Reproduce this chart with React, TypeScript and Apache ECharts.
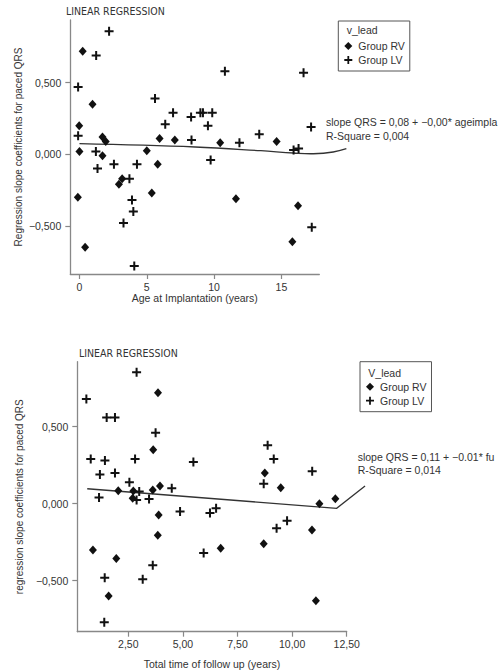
import React, { useEffect, useRef } from "react";
import * as echarts from "echarts";

// ---- data: top panel (Age at implantation) ----
const topRV: number[][] = [
  [0.24, 0.72], [0.97, 0.35], [-0.02, 0.2], [1.71, 0.12], [1.95, 0.09], [5.95, 0.11],
  [7.08, 0.1], [10.45, 0.08], [14.64, 0.09], [0.0, 0.02], [1.71, -0.01], [5.0, 0.025],
  [5.81, -0.07], [3.17, -0.17], [2.93, -0.21], [5.37, -0.27], [-0.12, -0.3], [0.42, -0.65],
  [11.62, -0.31], [16.23, -0.36], [15.81, -0.61],
];
const topLV: number[][] = [
  [2.2, 0.86], [1.24, 0.69], [-0.1, 0.47], [5.61, 0.39], [10.8, 0.58], [16.64, 0.57],
  [-0.1, 0.13], [6.37, 0.21], [6.95, 0.29], [8.29, 0.26], [8.98, 0.29], [9.17, 0.29],
  [9.86, 0.29], [9.54, 0.2], [8.32, 0.1], [11.88, 0.08], [13.35, 0.14], [17.2, 0.19],
  [15.9, 0.03], [16.27, 0.04], [1.22, 0.02], [1.34, -0.1], [2.56, -0.07], [4.27, -0.07],
  [3.71, -0.17], [9.74, -0.04], [3.9, -0.32], [4.0, -0.4], [3.27, -0.48], [4.07, -0.78],
  [17.25, -0.51],
];
const topFit: number[][] = [
  [0, 0.074], [8.59, 0.051], [13.47, 0.025], [15.9, 0.009], [17.37, 0.004], [18.84, 0.016], [19.82, 0.039],
];
const topXTicks = [0, 5, 10, 15];

// ---- data: bottom panel (follow up) ----
const botRV: number[][] = [
  [3.86, 0.72], [3.64, 0.35], [3.95, 0.115], [2.04, 0.084], [2.73, 0.082], [3.62, 0.089],
  [2.7, 0.035], [3.89, -0.073], [3.85, -0.205], [0.88, -0.3], [1.95, -0.355], [1.6, -0.6],
  [6.73, -0.29], [8.75, 0.2], [9.48, 0.104], [11.25, 0.0], [11.98, 0.032], [10.91, -0.17],
  [8.7, -0.26], [11.09, -0.63],
];
const botLV: number[][] = [
  [2.88, 0.853], [0.58, 0.68], [1.51, 0.56], [1.89, 0.56], [3.75, 0.46], [0.78, 0.29],
  [1.43, 0.28], [2.81, 0.29], [5.48, 0.27], [1.2, 0.19], [1.89, 0.2], [2.55, 0.14],
  [3.0, 0.08], [4.49, 0.1], [1.16, 0.04], [2.88, 0.024], [3.45, 0.03], [4.87, -0.05],
  [6.24, -0.06], [6.52, -0.03], [5.95, -0.32], [3.62, -0.4], [1.42, -0.48], [3.16, -0.49],
  [1.4, -0.77], [8.88, 0.38], [9.16, 0.29], [10.92, 0.21], [8.7, 0.13], [9.29, -0.16],
  [9.77, -0.11],
];
const botFit: number[][] = [[0.62, 0.097], [12.04, -0.03], [13.34, 0.115]];
const botXTicks = [2.5, 5, 7.5, 10, 12.5];

const yTicks = [-0.5, 0, 0.5];

const FONT = "'Liberation Sans', Arial, sans-serif";
const NARROW = "'Liberation Sans Narrow', 'DejaVu Sans Condensed', 'Liberation Sans', sans-serif";
const TXT = "#333";
const AX = "#888";
const PT = "#111";
const plusPath = "path://M3.5,0H5.5V3.5H9V5.5H5.5V9H3.5V5.5H0V3.5H3.5Z";

const fmtY = (v: number) => (v < 0 ? "\u2212" : "") + Math.abs(v).toFixed(3).replace(".", ",");

function xAxisCfg(grid: number, min: number, max: number, ticks: number[], fmt: (v: number) => string, name: string, gap: number) {
  return {
    type: "value",
    gridIndex: grid,
    min,
    max,
    name,
    nameLocation: "middle",
    nameGap: gap,
    nameTextStyle: { fontFamily: FONT, fontSize: 10.5, color: TXT },
    axisLine: { onZero: false, lineStyle: { color: AX, width: 1.3 } },
    axisTick: { show: true, customValues: ticks, length: 5, lineStyle: { color: AX, width: 1.2 } },
    axisLabel: { customValues: ticks, formatter: fmt, fontFamily: FONT, fontSize: 10.5, color: TXT, margin: 7, showMaxLabel: true, showMinLabel: true },
    splitLine: { show: false },
  };
}
function yAxisCfg(grid: number, min: number, max: number, name: string) {
  return {
    type: "value",
    gridIndex: grid,
    min,
    max,
    name,
    nameLocation: "middle",
    nameGap: 47,
    nameTextStyle: { fontFamily: FONT, fontSize: 10, color: TXT },
    axisLine: { onZero: false, lineStyle: { color: AX, width: 1.3 } },
    axisTick: { show: true, customValues: yTicks, length: 5, lineStyle: { color: AX, width: 1.2 } },
    axisLabel: { customValues: yTicks, formatter: fmtY, fontFamily: FONT, fontSize: 10.5, color: TXT, margin: 9 },
    splitLine: { show: false },
  };
}

function legendCfg(left: number, top: number) {
  return {
    data: ["Group RV", "Group LV"],
    orient: "vertical",
    left,
    top,
    padding: [19, 5, 5, 6],
    borderColor: "#555",
    borderWidth: 1,
    borderRadius: 0,
    itemWidth: 8,
    itemHeight: 8,
    itemGap: 2,
    selectedMode: false,
    textStyle: { fontFamily: FONT, fontSize: 10.5, lineHeight: 12, color: TXT, padding: [0, 0, 0, 1] },
  };
}

function txt(x: number, y: number, text: string, fontFamily = FONT, fontSize = 10.5) {
  return {
    type: "text",
    x,
    y,
    silent: true,
    style: { text, fill: TXT, fontFamily, fontSize, verticalAlign: "middle", align: "left" },
  };
}

export default function App() {
  const ref = useRef<HTMLDivElement>(null);
  useEffect(() => {
    if (!ref.current) return;
    const chart = echarts.init(ref.current, null, { renderer: "svg" });
    const scatter = (name: string, data: number[][], grid: number, diamond: boolean) => ({
      name,
      type: "scatter",
      xAxisIndex: grid,
      yAxisIndex: grid,
      data,
      symbol: diamond ? "diamond" : plusPath,
      symbolSize: diamond ? [8, 9] : 9,
      itemStyle: { color: PT, opacity: 1 },
      silent: true,
    });
    // regression curve: drawn through the axes' own scales, not clipped to the grid
    const fit = (data: number[][], grid: number, smooth: number) => ({
      type: "custom",
      xAxisIndex: grid,
      yAxisIndex: grid,
      data,
      clip: false,
      silent: true,
      z: 1,
      renderItem: (params: any, api: any) => {
        if (params.dataIndex !== 0) return null;
        const pts = data.map((p) => api.coord(p));
        return {
          type: "polyline",
          shape: { points: pts, smooth },
          style: { stroke: "#333", lineWidth: 1.3, fill: null },
        };
      },
    });
    chart.setOption({
      animation: false,
      backgroundColor: "#fff",
      title: [
        { text: "LINEAR REGRESSION", left: 66, top: 5, padding: 0, textStyle: { fontFamily: NARROW, fontSize: 10.5, fontWeight: "normal", color: TXT } },
        { text: "LINEAR REGRESSION", left: 79, top: 347, padding: 0, textStyle: { fontFamily: NARROW, fontSize: 10.5, fontWeight: "normal", color: TXT } },
      ],
      grid: [
        { left: 66.7, top: 20, width: 252.6, height: 254, containLabel: false },
        { left: 77.3, top: 361.7, width: 269.4, height: 270, containLabel: false },
      ],
      xAxis: [
        xAxisCfg(0, -0.68, 17.81, topXTicks, (v: number) => String(v), "Age at Implantation (years)", 17),
        xAxisCfg(1, 0.165, 12.5, botXTicks, (v: number) => v.toFixed(2).replace(".", ","), "Total time of follow up (years)", 27),
      ],
      yAxis: [
        yAxisCfg(0, -0.836, 0.938, "Regression slope coefficients for paced QRS"),
        yAxisCfg(1, -0.831, 0.922, "regression slope coefficients for paced QRS"),
      ],
      legend: [legendCfg(338.3, 21), legendCfg(360, 361.7)],
      graphic: [
        txt(346.7, 30, "v_lead"),
        txt(368.3, 373.3, "V_lead"),
        txt(326, 121.7, "slope QRS = 0,08 + \u22120,00* ageimpla"),
        txt(326, 136, "R-Square = 0,004"),
        txt(357.7, 456.7, "slope QRS = 0,11 + \u22120.01* fu"),
        txt(357.7, 470, "R-Square = 0,014"),
      ],
      series: [
        scatter("Group RV", topRV, 0, true),
        scatter("Group LV", topLV, 0, false),
        fit(topFit, 0, 0.4),
        scatter("Group RV", botRV, 1, true),
        scatter("Group LV", botLV, 1, false),
        fit(botFit, 1, 0),
      ],
    });
    return () => chart.dispose();
  }, []);
  return (
    <div
      ref={ref}
      style={{ position: "fixed", left: 0, top: 0, width: 502, height: 672, background: "#fff" }}
    />
  );
}
